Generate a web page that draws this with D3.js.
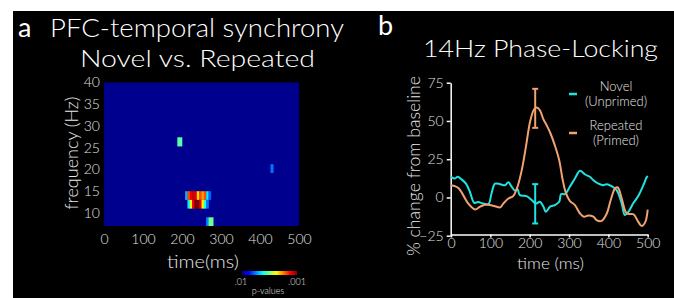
<!DOCTYPE html>
<html>
<head>
<meta charset="utf-8">
<script src="https://cdn.jsdelivr.net/npm/d3@7"></script>
<style>
  body { margin: 0; background: #fff; }
  svg { display: block; }
  text { font-family: Lato, "Open Sans", sans-serif; font-weight: 300; fill: #e6e6e6; }
</style>
</head>
<body>
<script>
// --- panel a: significant time-frequency cells (p-level 0 = .01, 1 = .001)
var heatTimeDomain = [0, 500]
var heatFreqDomain = [7, 40]
var heatXTicks = [0, 100, 200, 300, 400, 500]
var heatYTicks = [10, 15, 20, 25, 30, 35, 40]
var rowFreqs = [[13, 15], [11, 13]]
var rowStarts = [208, 214]
var rowStep = 6
var rowLevels = [
    [0.3, 0.8, 0.9, 0.92, 0.9, 0.66, 0.8, 0.72, 0.8, 0.36, 0.22],
    [0.36, 0.62, 0.88, 1.0, 1.0, 0.9, 0.64, 0.4, 0.24]
]
var loneT0 = [188, 427, 262, 268]
var loneT1 = [200, 434, 268, 280]
var loneF0 = [25.3, 19.2, 7, 7]
var loneF1 = [27.4, 21.2, 9, 9]
var loneLevel = [0.46, 0.24, 0.26, 0.48]

// --- panel b: 14Hz phase-locking
var novelT = [0, 10, 17, 27, 38, 48, 59, 69, 82, 95, 103, 112, 125, 137, 146, 154, 163, 169, 175, 192, 205, 216, 226, 235, 241, 252, 264, 275, 280, 290, 302, 315, 328, 341, 353, 362, 375, 387, 396, 408, 421, 434, 442, 451, 464, 476, 489, 497, 500]
var novelV = [13.5, 12.4, 13.5, 11.8, 9, 3.7, -3.5, -3, -4, -4.4, 2.6, 9, 8.7, 8, 10, 7, 4.4, 5.4, 1.5, 0.9, -1.7, -4, -2.8, -6, -9.4, -6, -5, -2.8, 2.2, 2.2, 7, 12.4, 17.4, 15, 13.5, 11.3, 9, 8, 8.7, 7.4, 4.8, -4, -11.5, -9.4, -3.5, 0.9, 8, 13, 14]
var repeatT = [0, 10, 20, 31, 44, 61, 74, 89, 99, 112, 125, 133, 146, 158, 169, 180, 191, 201, 211, 218, 226, 235, 243, 253, 264, 275, 284, 292, 302, 315, 328, 338, 349, 362, 370, 383, 396, 406, 417, 424, 434, 447, 464, 476, 485, 494, 500]
var repeatV = [8, 7.4, 5.9, 1.5, -4, -7.8, -6, -4.6, -5, -5.7, -6.5, -4, -0.7, 0.9, 7, 18, 34, 49.5, 57.5, 58.8, 57, 51, 47.3, 41.8, 34, 24.4, 11.3, 3, -2.2, -5, -10.5, -12.6, -11.8, -12.6, -14.8, -15.3, -10.5, -1.7, 5.9, 6.5, -0.7, -10.5, -11, -16, -18.7, -16, -8]
var errT = 214
var novelErr = [-17, 8.7]
var repeatErr = [45.5, 71]
var lineXTicks = [0, 100, 200, 300, 400, 500]
var lineYTicks = [-25, 0, 25, 50, 75]
var legendNames = [["Novel", "(Unprimed)"], ["Repeated", "(Primed)"]]
var seriesColors = ["#1fe3e3", "#f2a26e"]

var W = 674, H = 298
var svg = d3.select("body").append("svg").attr("width", W).attr("height", H)

svg.append("rect").attr("x", 13).attr("y", 11).attr("width", W - 13).attr("height", H - 11).attr("fill", "#000")

// jet colour map
var jet = d3.scaleLinear()
    .domain([0, 0.125, 0.375, 0.625, 0.875, 1])
    .range(["#00008f", "#0000ff", "#00ffff", "#ffff00", "#ff0000", "#800000"])
    .interpolate(d3.interpolateRgb)

function fitText(sel, w) {
    sel.attr("textLength", w).attr("lengthAdjust", "spacingAndGlyphs")
    return sel
}

// titles
svg.append("text").attr("x", 18).attr("y", 37).style("font-size", "27px").style("font-weight", 400).style("fill", "#fff").text("a")
fitText(svg.append("text").attr("x", 50).attr("y", 37).style("font-size", "25px").style("fill", "#fff").text("PFC-temporal synchrony"), 294)
fitText(svg.append("text").attr("x", 80).attr("y", 67).style("font-size", "24px").style("fill", "#fff").text("Novel vs. Repeated"), 235)
svg.append("text").attr("x", 378).attr("y", 35).style("font-size", "27px").style("font-weight", 400).style("fill", "#fff").text("b")
fitText(svg.append("text").attr("x", 423).attr("y", 57).style("font-size", "23px").style("fill", "#fff").text("14Hz Phase-Locking"), 235)

// ---------------- panel a ----------------
var xH = d3.scaleLinear().domain(heatTimeDomain).range([104, 299])
var yH = d3.scaleLinear().domain(heatFreqDomain).range([226, 82.5])

svg.append("rect")
    .attr("x", xH(0)).attr("y", yH(40))
    .attr("width", xH(500) - xH(0)).attr("height", yH(7) - yH(40))
    .attr("fill", jet(0))

var cells = []
rowLevels.forEach(function (levels, r) {
    levels.forEach(function (p, i) {
        cells.push({ t0: rowStarts[r] + i * rowStep, t1: rowStarts[r] + (i + 1) * rowStep, f0: rowFreqs[r][0], f1: rowFreqs[r][1], p: p })
    })
})
loneT0.forEach(function (t, i) {
    cells.push({ t0: t, t1: loneT1[i], f0: loneF0[i], f1: loneF1[i], p: loneLevel[i] })
})

svg.append("g").selectAll("rect").data(cells).join("rect")
    .attr("x", d => xH(d.t0))
    .attr("y", d => yH(d.f1))
    .attr("width", d => xH(d.t1) - xH(d.t0) + 0.3)
    .attr("height", d => yH(d.f0) - yH(d.f1))
    .attr("fill", d => jet(d.p))

var hx = svg.append("g").attr("transform", "translate(0,226)")
    .call(d3.axisBottom(xH).tickValues(heatXTicks).tickSize(0).tickPadding(8))
var hy = svg.append("g").attr("transform", "translate(104,0)")
    .call(d3.axisLeft(yH).tickValues(heatYTicks).tickSize(0).tickPadding(4))
;[hx, hy].forEach(function (g) {
    g.select(".domain").remove()
    g.selectAll("text").style("font-size", "14px").style("fill", "#e0e0e0")
        .style("font-family", "Lato, sans-serif").style("font-weight", 300)
})

fitText(svg.append("text").attr("transform", "translate(78,153) rotate(-90)").attr("text-anchor", "middle")
    .style("font-size", "18px").text("frequency (Hz)"), 113)
fitText(svg.append("text").attr("x", 167).attr("y", 268).style("font-size", "18px").text("time(ms)"), 72)

// colour bar
var defs = svg.append("defs")
var grad = defs.append("linearGradient").attr("id", "jetgrad")
d3.range(0, 1.001, 0.125).forEach(function (o) {
    grad.append("stop").attr("offset", o).attr("stop-color", jet(o))
})
svg.append("rect").attr("x", 242).attr("y", 271).attr("width", 55).attr("height", 4).attr("fill", "url(#jetgrad)")
svg.append("text").attr("x", 241).attr("y", 285).attr("text-anchor", "middle").style("font-size", "9px").text(".01")
svg.append("text").attr("x", 297).attr("y", 285).attr("text-anchor", "middle").style("font-size", "9px").text(".001")
svg.append("text").attr("x", 268).attr("y", 294).attr("text-anchor", "middle").style("font-size", "9px").text("p-values")

// ---------------- panel b ----------------
var xL = d3.scaleLinear().domain([0, 500]).range([451, 647.7])
var yL = d3.scaleLinear().domain([-25, 75]).range([235.7, 82.7])

var ax = svg.append("g").attr("transform", "translate(0,234.5)")
    .call(d3.axisBottom(xL).tickValues(lineXTicks).tickSize(3).tickSizeOuter(0).tickPadding(2))
var ay = svg.append("g").attr("transform", "translate(450.7,0)")
    .call(d3.axisLeft(yL).tickValues(lineYTicks).tickSize(4).tickSizeOuter(0).tickPadding(3))
;[ax, ay].forEach(function (g) {
    g.selectAll(".domain, line").attr("stroke", "#fff").attr("stroke-width", 1.5)
    g.selectAll("text").style("font-size", "14px").style("fill", "#e0e0e0")
        .style("font-family", "Lato, sans-serif").style("font-weight", 300)
})
ax.selectAll(".tick text").attr("dy", "0.6em")

var line = d3.line()
    .x(d => xL(d[0]))
    .y(d => yL(d[1]))
    .curve(d3.curveCatmullRom)

var series = [
    d3.zip(novelT, novelV),
    d3.zip(repeatT, repeatV)
]
svg.append("g").selectAll("path").data(series).join("path")
    .attr("d", line)
    .attr("fill", "none")
    .attr("stroke", (d, i) => seriesColors[i])
    .attr("stroke-width", 2)

// error bars
var errs = [novelErr, repeatErr]
var eg = svg.append("g").selectAll("g").data(errs).join("g")
    .attr("stroke", (d, i) => seriesColors[i]).attr("stroke-width", 2)
eg.append("line").attr("x1", xL(errT)).attr("x2", xL(errT)).attr("y1", d => yL(d[0])).attr("y2", d => yL(d[1]))
eg.append("line").attr("x1", xL(errT) - 3).attr("x2", xL(errT) + 3).attr("y1", d => yL(d[0])).attr("y2", d => yL(d[0]))
eg.append("line").attr("x1", xL(errT) - 3).attr("x2", xL(errT) + 3).attr("y1", d => yL(d[1])).attr("y2", d => yL(d[1]))

fitText(svg.append("text").attr("transform", "translate(420,166) rotate(-90)").attr("text-anchor", "middle")
    .style("font-size", "17px").text("% change from baseline"), 180)
fitText(svg.append("text").attr("x", 517).attr("y", 269).style("font-size", "16px").text("time (ms)"), 67)

// legend
var legY = [94, 133]
legendNames.forEach(function (names, i) {
    svg.append("line").attr("x1", 569).attr("x2", 577).attr("y1", legY[i]).attr("y2", legY[i])
        .attr("stroke", seriesColors[i]).attr("stroke-width", 2.5)
    svg.append("text").attr("x", 616).attr("y", legY[i] - 3).attr("text-anchor", "middle").style("font-size", "13px").text(names[0])
    svg.append("text").attr("x", 616).attr("y", legY[i] + 12).attr("text-anchor", "middle").style("font-size", "13px").text(names[1])
})
</script>
</body>
</html>
